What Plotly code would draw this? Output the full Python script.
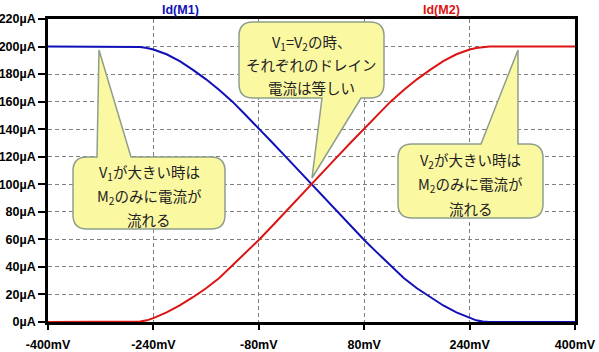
import plotly.graph_objects as go

# ---- data ----
v_mv = [-400, -300, -270, -260, -250, -240, -220, -200, -180, -160, -140, -120, -100,
        -80, -60, -40, -20, 0, 20, 40, 60, 80, 100, 120, 140, 160, 180, 200, 220,
        240, 250, 260, 270, 300, 400]
id_m1 = [200, 200, 200, 199.7, 199, 197.9, 194.4, 189.4, 183.1, 176.2, 168.4, 160, 150.3,
         140.6, 130.5, 120.4, 110.2, 100, 90, 79.8, 69.5, 59.5, 50.2, 41, 32, 24.5, 18, 12, 7,
         2.8, 1.2, 0.3, 0, 0, 0]
id_m2 = [0, 0, 0, 0.3, 1.2, 2.8, 7, 12, 18, 24.5, 32, 41, 50.2,
         59.5, 69.5, 79.8, 90, 100, 110.2, 120.4, 130.5, 140.6, 150.3, 160, 168.4, 176.2, 183.1,
         189.4, 194.4, 197.9, 199, 199.7, 200, 200, 200]

x_ticks = [-400, -240, -80, 80, 240, 400]
x_tick_labels = ["-400mV", "-240mV", "-80mV", "80mV", "240mV", "400mV"]
y_ticks = [0, 20, 40, 60, 80, 100, 120, 140, 160, 180, 200, 220]
y_tick_labels = [f"{v}\u00b5A" for v in y_ticks]

trace_names = ["Id(M1)", "Id(M2)"]
trace_colors = ["#1010b8", "#dc1414"]

# ---- layout geometry (pixels) ----
W, H = 599, 352
L, R, T, B = 48, 24, 19, 30
PW, PH = W - L - R, H - T - B
XR = (-400, 400)
YR = (0, 220)


def xd(px):
    return XR[0] + (px - L) * (XR[1] - XR[0]) / PW


def yd(py):
    return YR[0] + (T + PH - py) * (YR[1] - YR[0]) / PH


def xp(px):
    return (px - L) / PW


def yp(py):
    return (T + PH - py) / PH


def callout(x0, y0, x1, y1, r, side, a, b, tip):
    P = lambda x, y: f"{xd(x):.3f},{yd(y):.3f}"
    tx, ty = tip
    s = f"M {P(x0 + r, y0)} "
    if side == "top":
        s += f"L {P(a, y0)} L {P(tx, ty)} L {P(b, y0)} "
    s += f"L {P(x1 - r, y0)} Q {P(x1, y0)} {P(x1, y0 + r)} "
    s += f"L {P(x1, y1 - r)} Q {P(x1, y1)} {P(x1 - r, y1)} "
    if side == "bottom":
        s += f"L {P(b, y1)} L {P(tx, ty)} L {P(a, y1)} "
    s += f"L {P(x0 + r, y1)} Q {P(x0, y1)} {P(x0, y1 - r)} "
    s += f"L {P(x0, y0 + r)} Q {P(x0, y0)} {P(x0 + r, y0)} Z"
    return s


fig = go.Figure()
for name, ys, col in zip(trace_names, [id_m1, id_m2], trace_colors):
    fig.add_trace(go.Scatter(x=v_mv, y=ys, mode="lines", name=name,
                             line=dict(color=col, width=2), hoverinfo="skip"))

callouts = [
    dict(box=(73, 157, 225, 229), side="top", a=97, b=131, tip=(99, 50),
         lines=["V<sub>1</sub>が大きい時は", "M<sub>2</sub>のみに電流が", "流れる"],
         cx=149, ys=[172, 196.5, 220]),
    dict(box=(398, 144, 543, 218), side="top", a=481, b=518, tip=(518, 50),
         lines=["V<sub>2</sub>が大きい時は", "M<sub>2</sub>のみに電流が", "流れる"],
         cx=470.5, ys=[160.5, 184, 208.5]),
    dict(box=(239, 22, 384, 98), side="bottom", a=322, b=361, tip=(312, 178),
         lines=["V<sub>1</sub>=V<sub>2</sub>の時、", "それぞれのドレイン", "電流は等しい"],
         cx=311.5, ys=[43, 65, 87]),
]

shapes = []
annotations = []
for c in callouts:
    x0, y0, x1, y1 = c["box"]
    shapes.append(dict(type="path", xref="x", yref="y", layer="above",
                       path=callout(x0, y0, x1, y1, 14, c["side"], c["a"], c["b"], c["tip"]),
                       fillcolor="#fbf8a2", line=dict(color="#8e9e8c", width=1.5)))
    for txt, py in zip(c["lines"], c["ys"]):
        annotations.append(dict(text=txt, xref="paper", yref="paper", x=xp(c["cx"]), y=yp(py),
                                xanchor="center", yanchor="middle", showarrow=False,
                                font=dict(family="Noto Sans CJK JP", size=14.5, color="#222222")))

for name, col, px in zip(trace_names, trace_colors, [180, 441.7]):
    annotations.append(dict(text=name, xref="paper", yref="paper", x=xp(px), y=yp(10),
                            xanchor="center", yanchor="middle", showarrow=False,
                            font=dict(family="Liberation Sans", size=12.5, color=col, weight="bold")))

axis_common = dict(showgrid=True, gridcolor="#808080", gridwidth=1, griddash="4px,3px",
                   showline=True, linecolor="black", linewidth=2.5, mirror=True,
                   ticks="outside", tickwidth=2, tickcolor="black", zeroline=False,
                   automargin=False,
                   tickfont=dict(family="Liberation Sans", size=12.5, color="black", weight="bold"))

fig.update_layout(
    width=W, height=H,
    margin=dict(l=L, r=R, t=T, b=B),
    paper_bgcolor="white", plot_bgcolor="white",
    showlegend=False,
    shapes=shapes, annotations=annotations,
    xaxis=dict(range=list(XR), tickmode="array", tickvals=x_ticks, ticktext=x_tick_labels,
               ticklen=5, ticklabelstandoff=4, **axis_common),
    yaxis=dict(range=list(YR), tickmode="array", tickvals=y_ticks, ticktext=y_tick_labels,
               ticklen=7, **axis_common),
)

fig.write_html("out.html")
